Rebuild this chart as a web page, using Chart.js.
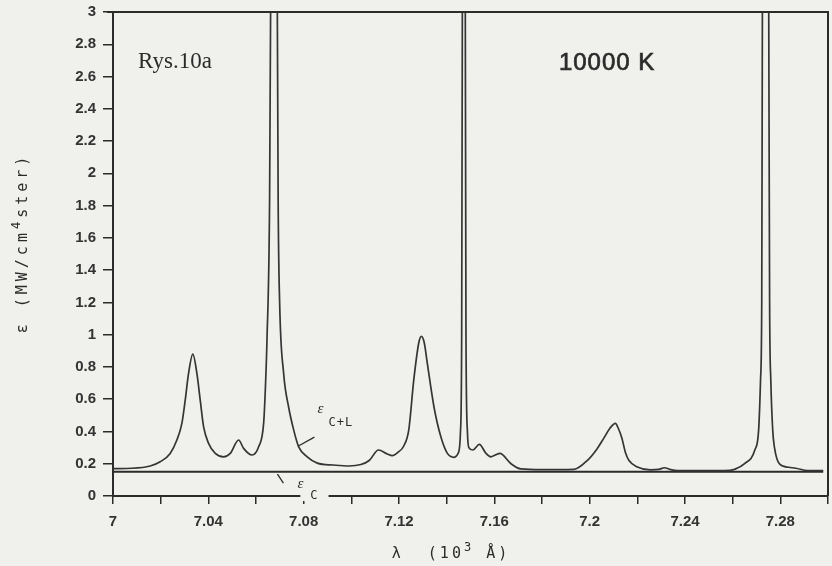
<!DOCTYPE html>
<html>
<head>
    <meta charset="UTF-8">
    <title>Rys. 10a - emission spectrum, 10000 K</title>
    <style>
        body {
            margin: 0;
            background-color: #f0f0ed;
            overflow: hidden;
        }
        #chartBox {
            width: 832px;
            height: 566px;
        }
    </style>
    <script src="https://cdn.jsdelivr.net/npm/chart.js"></script>
</head>
<body>
<div id="chartBox">
    <canvas id="specChart" width="832" height="566"></canvas>
</div>
<script>
    // lambda in 10^3 A, epsilon in MW/cm^4 ster
    const lambdaCL = [
        7.000, 7.008, 7.0156, 7.0198, 7.0240, 7.0268, 7.0289, 7.0303, 7.0317, 7.0335,
        7.0352, 7.0366, 7.0380, 7.0401, 7.0429, 7.0464, 7.0492, 7.0527, 7.0548, 7.0583,
        7.0611, 7.0632, 7.0639, 7.0646, 7.0657, 7.0662, 7.0675, 7.0689, 7.0693, 7.0699,
        7.0716, 7.0737, 7.0758, 7.0779, 7.0815, 7.0857, 7.0925, 7.0990, 7.1040, 7.1075,
        7.1114, 7.1151, 7.1172, 7.1195, 7.1220, 7.1241, 7.1262, 7.1283, 7.1294, 7.1306,
        7.1319, 7.1347, 7.1375, 7.1403, 7.1431, 7.1450, 7.1458, 7.1463, 7.1466, 7.1472,
        7.1478, 7.1481, 7.1487, 7.1493, 7.1510, 7.1537, 7.1565, 7.1585, 7.1623, 7.1670,
        7.1711, 7.1800, 7.1934, 7.1992, 7.2030, 7.2060, 7.2085, 7.2108, 7.2120, 7.2135,
        7.2150, 7.2165, 7.2200, 7.2255, 7.2290, 7.2314, 7.2340, 7.2370, 7.2566, 7.2608,
        7.2650, 7.2693, 7.2709, 7.2717, 7.2722, 7.2725, 7.2738, 7.2751, 7.2755, 7.2760,
        7.2768, 7.2775, 7.2796, 7.2835, 7.2865, 7.2915, 7.2980
    ];
    const epsCL = [
        0.170, 0.172, 0.186, 0.212, 0.264, 0.347, 0.45, 0.594, 0.76, 0.88,
        0.76, 0.594, 0.43, 0.326, 0.264, 0.243, 0.264, 0.347, 0.295, 0.254,
        0.305, 0.45, 0.656, 0.966, 1.83, 3.2, 9.0, 3.2, 1.83, 1.21,
        0.76, 0.55, 0.41, 0.305, 0.243, 0.204, 0.192, 0.186, 0.195, 0.22,
        0.285, 0.26, 0.25, 0.27, 0.31, 0.41, 0.72, 0.95, 0.99, 0.95,
        0.82, 0.55, 0.37, 0.264, 0.24, 0.27, 0.40, 1.0, 3.2, 9.0,
        3.2, 1.0, 0.40, 0.30, 0.285, 0.32, 0.264, 0.243, 0.264, 0.20,
        0.168, 0.163, 0.165, 0.223, 0.29, 0.36, 0.42, 0.45, 0.42, 0.36,
        0.27, 0.22, 0.18, 0.162, 0.165, 0.175, 0.163, 0.157, 0.157, 0.165,
        0.20, 0.285, 0.41, 0.72, 1.2, 3.2, 9.0, 3.2, 1.2, 0.72,
        0.41, 0.305, 0.20, 0.178, 0.172, 0.158, 0.158
    ];
    // continuum only
    const lambdaC = [7.0, 7.298];
    const epsC = [0.15, 0.15];

    const xLabelTicks = [7, 7.04, 7.08, 7.12, 7.16, 7.2, 7.24, 7.28];

    var paperColor = '#f0f0ed';
    var inkColor = '#2b2b2b';

    function toPoints(xs, ys) {
        return xs.map(function (x, i) { return { x: x, y: ys[i] }; });
    }

    // text put on the plot, anchored in data units
    var notes = [
        { text: 'Rys.10a', x: 7.0105, y: 2.65, font: '23px "Liberation Serif"', spacing: '0px' },
        { text: '10000 K', x: 7.1871, y: 2.638, font: '24px "Liberation Sans"', spacing: '1px', stroke: true },
        { text: 'ε', x: 7.0858, y: 0.514, font: 'italic 15px "Liberation Serif"', spacing: '0px' },
        { text: 'C+L', x: 7.0904, y: 0.433, font: '12px "DejaVu Sans Mono"', spacing: '1px' },
        { text: 'ε', x: 7.0774, y: 0.05, font: 'italic 15px "Liberation Serif"', spacing: '0px' },
        { text: 'C', x: 7.0828, y: -0.019, font: '12px "DejaVu Sans Mono"', spacing: '1px', knockout: true }
    ];
    var leaders = [
        [7.0778, 0.31, 7.0845, 0.365],
        [7.0690, 0.136, 7.0715, 0.08]
    ];

    // draw pieces of text one after another, some raised as superscripts
    function drawPieces(ctx, pieces, x, y) {
        let cx = x;
        pieces.forEach(function (p) {
            ctx.font = p.font;
            ctx.fillText(p.text, cx, y - (p.rise || 0));
            cx += ctx.measureText(p.text).width;
        });
        return cx - x;
    }

    function piecesWidth(ctx, pieces) {
        let w = 0;
        pieces.forEach(function (p) {
            ctx.font = p.font;
            w += ctx.measureText(p.text).width;
        });
        return w;
    }

    const paperPlugin = {
        id: 'paper',
        beforeDraw: function (chart) {
            const ctx = chart.ctx;
            ctx.save();
            ctx.fillStyle = paperColor;
            ctx.fillRect(0, 0, chart.width, chart.height);
            ctx.restore();
        },
        afterDraw: function (chart) {
            const ctx = chart.ctx;
            const area = chart.chartArea;
            const xs = chart.scales.x;
            const ys = chart.scales.y;
            ctx.save();

            // top and right frame
            ctx.strokeStyle = inkColor;
            ctx.lineWidth = 2;
            ctx.beginPath();
            ctx.moveTo(area.left - 6, area.top);
            ctx.lineTo(area.right, area.top);
            ctx.lineTo(area.right, area.bottom);
            ctx.stroke();

            // leader lines for the curve labels
            ctx.lineWidth = 1.3;
            leaders.forEach(function (l) {
                ctx.beginPath();
                ctx.moveTo(xs.getPixelForValue(l[0]), ys.getPixelForValue(l[1]));
                ctx.lineTo(xs.getPixelForValue(l[2]), ys.getPixelForValue(l[3]));
                ctx.stroke();
            });

            ctx.textBaseline = 'alphabetic';
            ctx.textAlign = 'left';
            notes.forEach(function (n) {
                const px = xs.getPixelForValue(n.x);
                const py = ys.getPixelForValue(n.y);
                ctx.font = n.font;
                ctx.letterSpacing = n.spacing;
                if (n.knockout) {
                    const w = ctx.measureText(n.text).width;
                    ctx.fillStyle = paperColor;
                    ctx.fillRect(px - 10, py - 10, w + 20, 12);
                }
                ctx.fillStyle = inkColor;
                ctx.fillText(n.text, px, py);
                if (n.stroke) {
                    ctx.strokeStyle = inkColor;
                    ctx.lineWidth = 0.7;
                    ctx.strokeText(n.text, px, py);
                }
            });

            // axis titles (spaced typewriter look)
            const mono = '15px "DejaVu Sans Mono"';
            const monoSmall = '12px "DejaVu Sans Mono"';
            ctx.fillStyle = inkColor;
            ctx.textAlign = 'left';
            ctx.textBaseline = 'alphabetic';

            ctx.letterSpacing = '4px';
            const yTitle = [
                { text: 'ε (MW/cm', font: mono },
                { text: '4', font: monoSmall, rise: 7 },
                { text: 'ster)', font: mono }
            ];
            ctx.save();
            ctx.translate(27, 243);
            ctx.rotate(-Math.PI / 2);
            drawPieces(ctx, yTitle, -piecesWidth(ctx, yTitle) / 2, 0);
            ctx.restore();

            ctx.letterSpacing = '3px';
            const xTitle = [
                { text: 'λ  (10', font: mono },
                { text: '3', font: monoSmall, rise: 7 },
                { text: ' Å)', font: mono }
            ];
            drawPieces(ctx, xTitle, 451 - piecesWidth(ctx, xTitle) / 2, 558);
            ctx.restore();
        }
    };

    const data = {
        datasets: [{
            label: 'eps C+L',
            data: toPoints(lambdaCL, epsCL),
            borderColor: '#353535',
            borderWidth: 1.7,
            pointRadius: 0,
            cubicInterpolationMode: 'monotone',
            fill: false
        }, {
            label: 'eps C',
            data: toPoints(lambdaC, epsC),
            borderColor: '#2b2b2b',
            borderWidth: 2,
            pointRadius: 0,
            fill: false
        }]
    };

    const tickFont = { family: 'Liberation Sans', size: 15, weight: 'bold' };

    const config = {
        type: 'line',
        data: data,
        options: {
            responsive: false,
            animation: false,
            devicePixelRatio: 1,
            layout: { padding: { top: 12, right: 4, left: 0, bottom: 0 } },
            plugins: {
                legend: { display: false },
                tooltip: { enabled: false }
            },
            scales: {
                x: {
                    type: 'linear',
                    min: 7,
                    max: 7.3,
                    afterFit: function (scale) {
                        scale.height = 70;
                        scale.paddingLeft = 0;
                        scale.paddingRight = 0;
                    },
                    border: { display: true, color: inkColor, width: 2 },
                    grid: { drawOnChartArea: false, drawTicks: true, tickLength: 8, color: inkColor, lineWidth: 1.5 },
                    ticks: {
                        stepSize: 0.02,
                        autoSkip: false,
                        maxRotation: 0,
                        padding: 9,
                        color: '#333',
                        font: tickFont,
                        callback: function (v) {
                            const hit = xLabelTicks.find(function (t) { return Math.abs(t - v) < 1e-6; });
                            return hit === undefined ? '' : String(hit);
                        }
                    }
                },
                y: {
                    min: 0,
                    max: 3,
                    afterFit: function (scale) {
                        scale.width = 113;
                        scale.paddingTop = 0;
                        scale.paddingBottom = 0;
                    },
                    border: { display: true, color: inkColor, width: 2 },
                    grid: { drawOnChartArea: false, drawTicks: true, tickLength: 10, color: inkColor, lineWidth: 1.5 },
                    ticks: {
                        stepSize: 0.2,
                        autoSkip: false,
                        padding: 7,
                        color: '#333',
                        font: tickFont,
                        callback: function (v) { return String(Math.round(v * 10) / 10); }
                    }
                }
            }
        },
        plugins: [paperPlugin]
    };

    var specChart = new Chart(document.getElementById('specChart'), config);
</script>
</body>
</html>
